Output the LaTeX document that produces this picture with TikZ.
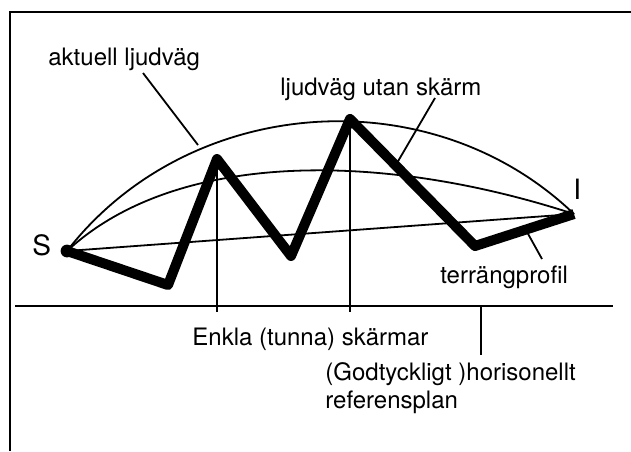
\documentclass[tikz,border=0pt]{standalone}
\usepackage{fontspec}
\setmainfont{TeX Gyre Heros}
\usepackage{tikz}
\usetikzlibrary{positioning, calc}
\tikzstyle{tag} = [font=\fontsize{12}{14}\selectfont,
inner sep=0pt,
anchor=base west]
\tikzstyle{endpoint} = [font=\fontsize{14}{16}\selectfont,
inner sep=0pt,
anchor=base west]
\tikzstyle{border} = [line width=1pt]
\tikzstyle{ray} = [line width=0.9pt]
\tikzstyle{leader} = [line width=0.9pt]
\tikzstyle{wall} = [line width=1pt]
\tikzstyle{plan} = [line width=1.1pt]
\tikzstyle{ground} = [line width=5pt, line join=round]

\begin{document}
\begin{tikzpicture}[x=0.5pt, y=0.5pt]
                \useasboundingbox (0,0) rectangle (631,-451);
                \draw [border] (10,-451) -- (10,-11.5) -- (631,-11.5);

                % terrain profile, source S and receiver I
                \coordinate (S) at (67,-251);
                \coordinate (dipA) at (168,-285);
                \coordinate (topA) at (217,-159);
                \coordinate (dipB) at (291,-256);
                \coordinate (topB) at (350,-119);
                \coordinate (dipC) at (475,-246);
                \coordinate (I) at (574,-214);
                \coordinate (footA) at (217,-312);
                \coordinate (footB) at (350,-312);
                \coordinate (planL) at (15,-306);
                \coordinate (planR) at (613,-306);
                \coordinate (planMark) at (481,-306);
                \coordinate (planTick) at (481,-355);

                \node (src) [endpoint] at (32,-255) {S};
                \node (rcv) [endpoint] at (573,-199) {I};
                \node (aktuell) [tag] at (48,-65) {aktuell ljudväg};
                \node (utan) [tag] at (280,-95) {ljudväg utan skärm};
                \node (terr) [tag] at (440,-283) {terrängprofil};
                \node (enkla) [tag] at (192,-345) {Enkla (tunna) skärmar};
                \node (horis) [tag] at (325,-380) {(Godtyckligt )horisonellt};
                \node (refplan) [tag] at (325,-408) {referensplan};

                \coordinate (aktTip) at (143,-73);
                \coordinate (aktEnd) at (198,-145);
                \coordinate (utanTip) at (435,-98);
                \coordinate (utanEnd) at (397,-163);
                \coordinate (terrTip) at (542,-259);
                \coordinate (terrEnd) at (527,-232);

                \draw [ray] (S) to[bend left=48] (I);
                \draw [ray] (S) .. controls (177,-149) and (384,-152) .. (I);
                \draw [ray] (S) -- (I);
                \draw [wall] (topA) -- (footA);
                \draw [wall] (topB) -- (footB);
                \draw [plan] (planL) -- (planR);
                \draw [plan] (planMark) -- (planTick);
                \draw [leader] (aktTip) -- (aktEnd);
                \draw [leader] (utanTip) -- (utanEnd);
                \draw [leader] (terrTip) -- (terrEnd);

                \draw [ground] (S) -- (dipA) -- (topA) -- (dipB) -- (topB) -- (dipC) -- (I);
                \fill (S) circle (3.2pt);
            \end{tikzpicture}
\end{document}
